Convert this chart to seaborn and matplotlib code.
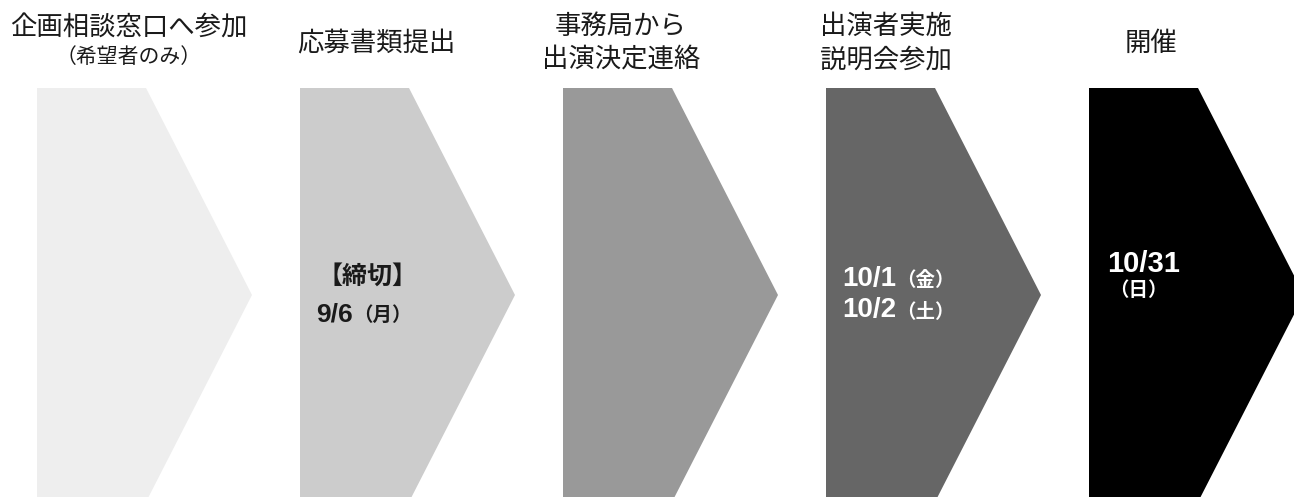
import matplotlib
matplotlib.use("Agg")
import matplotlib.pyplot as plt
from matplotlib.patches import Polygon
import seaborn as sns

# ---- data ----
step_titles = [
    ["企画相談窓口へ参加"],
    ["応募書類提出"],
    ["事務局から", "出演決定連絡"],
    ["出演者実施", "説明会参加"],
    ["開催"],
]
step_notes = ["（希望者のみ）", "", "", "", ""]
step_colors = ["#eeeeee", "#cccccc", "#999999", "#666666", "#000000"]
text_colors = ["#000000", "#1a1a1a", "#ffffff", "#ffffff", "#ffffff"]
# inner labels: (main text, small suffix)
step_labels = [
    [],
    [("【締切】", ""), ("9/6", "（月）")],
    [],
    [("10/1", "（金）"), ("10/2", "（土）")],
    [("10/31", ""), ("", "（日）")],
]

# ---- style ----
sns.set_theme(style="white")
plt.rcParams["font.family"] = ["Noto Sans CJK JP", "DejaVu Sans"]

W, H = 1294, 497
fig = plt.figure(figsize=(W / 100, H / 100), dpi=100)
ax = fig.add_axes([0, 0, 1, 1])
ax.set_xlim(0, W)
ax.set_ylim(H, 0)
ax.axis("off")

x0, pitch = 37, 263
top, tip_y, bottom = 88, 295, 502
body_w, tip_w = 109, 215

title_cx = [129, 376, 621, 886, 1151]
title_col = "#1a1a1a"

for i, (col, lines) in enumerate(zip(step_colors, step_titles)):
    L = x0 + i * pitch
    pts = [(L, top), (L + body_w, top), (L + tip_w, tip_y),
           (L + body_w, bottom), (L, bottom)]
    ax.add_patch(Polygon(pts, closed=True, facecolor=col, edgecolor="none"))

    # titles
    if len(lines) == 2:
        ys = [26, 60]
    elif step_notes[i]:
        ys = [28]
    else:
        ys = [43]
    for ln, y in zip(lines, ys):
        ax.text(title_cx[i], y, ln, ha="center", va="center",
                fontsize=19, color=title_col)
    if step_notes[i]:
        ax.text(title_cx[i], 57, step_notes[i], ha="center", va="center",
                fontsize=15, color=title_col)

# inner labels
label_pos = {
    1: [(318, 277, 18, "cjk"), (316, 314, 19, "num")],
    3: [(842, 279, 20, "num"), (842, 310, 20, "num")],
    4: [(1107, 264, 21, "num"), (1109, 290, 14, "cjk")],
}
for i, labs in enumerate(step_labels):
    for j, (main, suffix) in enumerate(labs):
        x, y, fs, kind = label_pos[i][j]
        tc = text_colors[i]
        if main:
            fam = ["Noto Sans CJK JP"] if kind == "cjk" else ["Liberation Sans", "Noto Sans CJK JP"]
            t1 = ax.text(x, y, main, ha="left", va="center", fontsize=fs,
                         fontweight="bold", color=tc, family=fam)
            if suffix:
                ax.annotate(suffix, xy=(1, 0.5), xycoords=t1,
                            xytext=(0, -1), textcoords="offset points",
                            ha="left", va="center", fontsize=14,
                            fontweight="bold", color=tc,
                            family=["Noto Sans CJK JP"])
        else:
            ax.text(x, y, suffix, ha="left", va="center", fontsize=fs,
                    fontweight="bold", color=tc, family=["Noto Sans CJK JP"])

fig.savefig("out.png", dpi=100, facecolor="white")
